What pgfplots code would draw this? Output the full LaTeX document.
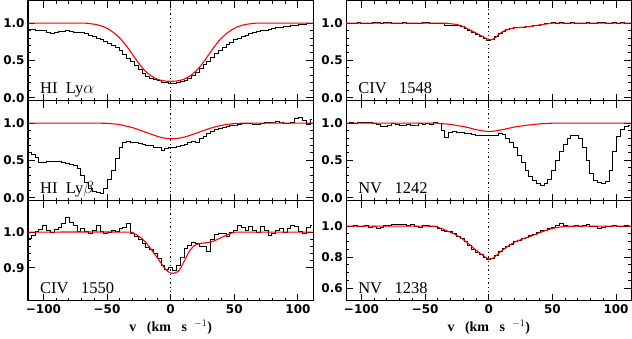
\documentclass[border=0pt]{standalone}
\usepackage{pgfplots}
\pgfplotsset{compat=1.18}
\usepackage{pgfplotstable}
\usepgfplotslibrary{groupplots}
\usepackage{fontspec}
\setmainfont{DejaVu Sans}
\newfontfamily\labfont{Liberation Serif}

% binned spectra (velocity bin centres, km/s)
\pgfplotstableread{
v    lya   lyb   c50   c48   n42   n38
-111 0.92  0.61  0.982 1.0   1.0   1.0
-108 0.91  0.575 0.99  0.995 1.005 0.998
-105 0.905 0.54  1.003 0.998 1.0   1.002
-102 0.90  0.47  1.008 1.004 1.008 0.996
-99  0.895 0.475 1.018 0.997 1.003 0.998
-96  0.875 0.48  1.004 0.993 1.01  1.003
-93  0.865 0.49  0.998 1.001 1.008 0.995
-90  0.88  0.49  1.007 1.006 0.99  1.0
-87  0.89  0.485 1.014 1.003 0.985 0.988
-84  0.885 0.475 1.024 0.998 0.96  0.99
-81  0.895 0.46  1.042 1.008 0.95  1.004
-78  0.89  0.45  1.028 1.004 0.975 1.008
-75  0.88  0.43  1.02  0.996 1.0   1.012
-72  0.875 0.39  1.002 1.0   0.985 1.01
-69  0.87  0.30  1.011 0.997 0.97  1.014
-66  0.855 0.20  1.002 1.004 0.975 1.012
-63  0.84  0.12  0.996 0.998 0.985 1.008
-60  0.82  0.085 1.004 0.994 0.965 1.01
-57  0.80  0.07  1.02  1.0   0.975 1.0
-54  0.78  0.06  1.002 0.996 0.99  0.99
-51  0.755 0.13  0.996 1.002 0.98  1.004
-48  0.73  0.24  0.998 1.006 0.995 1.002
-45  0.705 0.37  1.005 0.997 0.985 1.0
-42  0.67  0.53  1.003 0.995 1.005 0.996
-39  0.63  0.67  1.01  0.99  0.99  0.985
-36  0.58  0.74  1.012 0.993 0.9   0.972
-33  0.53  0.755 1.023 0.975 0.81  0.965
-30  0.48  0.745 0.996 0.97  0.875 0.965
-27  0.43  0.74  0.988 0.975 0.885 0.952
-24  0.38  0.73  0.978 0.968 0.88  0.935
-21  0.33  0.715 0.968 0.952 0.87  0.918
-18  0.29  0.705 0.958 0.925 0.86  0.9
-15  0.265 0.695 0.95  0.9   0.855 0.875
-12  0.24  0.68  0.94  0.87  0.845 0.848
-9   0.225 0.67  0.925 0.845 0.84  0.832
-6   0.21  0.63  0.905 0.82  0.835 0.82
-3   0.20  0.66  0.896 0.79  0.83  0.8
0    0.19  0.67  0.902 0.765 0.835 0.785
3    0.195 0.68  0.893 0.775 0.83  0.79
6    0.20  0.69  0.905 0.815 0.835 0.81
9    0.215 0.70  0.93  0.855 0.86  0.835
12   0.235 0.72  0.955 0.89  0.845 0.855
15   0.26  0.745 0.962 0.915 0.8   0.87
18   0.295 0.755 0.972 0.928 0.74  0.885
21   0.34  0.74  0.968 0.935 0.67  0.9
24   0.39  0.79  0.96  0.94  0.57  0.91
27   0.44  0.82  0.959 0.942 0.47  0.918
30   0.49  0.86  0.946 0.95  0.37  0.93
33   0.54  0.89  0.978 0.955 0.29  0.938
36   0.59  0.915 0.992 0.963 0.23  0.948
39   0.63  0.93  0.997 0.97  0.19  0.958
42   0.67  0.94  0.995 0.978 0.17  0.97
45   0.71  0.955 0.988 0.99  0.19  0.972
48   0.745 0.965 0.998 0.995 0.24  0.985
51   0.78  0.975 1.004 1.003 0.36  0.99
54   0.80  0.985 1.02  0.996 0.5   1.005
57   0.82  0.99  1.012 1.006 0.62  1.02
60   0.84  1.0   1.005 0.998 0.72  1.002
63   0.855 0.995 1.016 1.0   0.79  0.998
66   0.87  0.985 1.004 1.004 0.83  1.0
69   0.885 0.98  1.0   0.996 0.84  1.004
72   0.895 0.99  1.016 1.001 0.8   0.996
75   0.905 1.005 1.005 0.997 0.68  1.006
78   0.915 1.01  0.99  1.004 0.5   1.01
81   0.925 1.015 0.997 0.999 0.33  0.998
84   0.935 1.02  1.004 0.995 0.23  0.996
87   0.945 1.015 1.011 1.002 0.2   0.985
90   0.955 0.995 0.998 1.008 0.19  0.992
93   0.96  0.99  1.01  0.998 0.22  1.0
96   0.97  1.01  1.02  1.0   0.37  0.998
99   0.975 1.06  1.016 1.006 0.62  1.002
102  0.98  1.07  1.003 0.996 0.82  1.0
105  0.985 1.035 0.996 1.002 0.92  1.0
108  0.99  0.98  1.013 0.998 0.96  1.002
111  0.995 1.05  1.02  1.0   0.975 1.0
}\spec

\pgfplotsset{
  spec/.style={black, line width=0.9pt, const plot mark mid},
  model/.style={red, line width=1.1pt, smooth, tension=0.4},
  zeroline/.style={black, line width=1.3pt, dash pattern=on 1.3pt off 3pt},
}
\tikzset{lab/.style={anchor=base west, font=\labfont\fontsize{16.5}{16.5}\selectfont}}

\begin{document}
\begin{tikzpicture}
\begin{groupplot}[
  group style={group size=2 by 3, horizontal sep=33pt, vertical sep=0pt,
               xticklabels at=edge bottom},
  scale only axis, width=285pt, height=100pt,
  xmin=-112, xmax=112,
  xtick={-100,-50,0,50,100}, xticklabels={−100,−50,0,50,100},
  minor x tick num=4,
  tick align=inside, major tick length=7pt,
  tick style={black, line width=1pt},
  axis line style={line width=1.4pt},
  tick label style={font=\bfseries\fontsize{12}{12}\selectfont},
  ymin=-0.04, ymax=1.3, ytick={0,0.5,1}, yticklabels={0.0,0.5,1.0},
  minor y tick num=4,
]
% row 1
\nextgroupplot
\addplot[zeroline] coordinates {(0,-0.04) (0,1.3)};
\addplot[spec] table[x=v, y=lya] {\spec};
\addplot[model] coordinates {(-112,1) (-70,1) (-65,0.995) (-60,0.985) (-55,0.965) (-50,0.93) (-45,0.875) (-40,0.80) (-35,0.70) (-30,0.58) (-25,0.46) (-20,0.36) (-15,0.29) (-10,0.245) (-5,0.225) (0,0.22) (5,0.225) (10,0.245) (15,0.29) (20,0.36) (25,0.46) (30,0.58) (35,0.70) (40,0.80) (45,0.875) (50,0.93) (55,0.965) (60,0.985) (65,0.995) (70,1) (112,1)};
\node[lab] at (rel axis cs:0.03,0.07) {HI\ \ Ly$\alpha$};

\nextgroupplot
\addplot[zeroline] coordinates {(0,-0.04) (0,1.3)};
\addplot[spec] table[x=v, y=c48] {\spec};
\addplot[model] coordinates {(-112,1) (-40,1) (-35,0.997) (-30,0.992) (-25,0.98) (-21,0.96) (-16,0.92) (-11,0.876) (-6,0.83) (-2,0.795) (1,0.778) (3,0.782) (5,0.8) (8,0.85) (12,0.895) (17,0.926) (22,0.938) (27,0.945) (33,0.956) (41,0.978) (49,0.996) (55,1) (112,1)};
\node[lab] at (rel axis cs:0.03,0.07) {CIV\ \ \ 1548};

% row 2
\nextgroupplot
\addplot[zeroline] coordinates {(0,-0.04) (0,1.3)};
\addplot[spec] table[x=v, y=lyb] {\spec};
\addplot[model] coordinates {(-112,1) (-60,1) (-50,0.997) (-45,0.99) (-40,0.98) (-35,0.96) (-30,0.94) (-25,0.91) (-20,0.88) (-15,0.85) (-10,0.82) (-5,0.80) (0,0.79) (5,0.795) (10,0.81) (15,0.835) (20,0.865) (25,0.895) (30,0.925) (35,0.95) (40,0.97) (45,0.985) (50,0.993) (55,0.998) (60,1) (112,1)};
\node[lab] at (rel axis cs:0.03,0.07) {HI\ \ Ly$\beta$};

\nextgroupplot
\addplot[zeroline] coordinates {(0,-0.04) (0,1.3)};
\addplot[spec] table[x=v, y=n42] {\spec};
\addplot[model] coordinates {(-112,1) (-45,1) (-40,0.995) (-32,0.987) (-22,0.96) (-16,0.94) (-11,0.916) (-6,0.9) (-3,0.893) (0,0.889) (2,0.889) (5,0.895) (10,0.91) (15,0.928) (20,0.947) (26,0.962) (33,0.978) (40,0.99) (46,0.996) (55,1) (112,1)};
\node[lab] at (rel axis cs:0.03,0.07) {NV\ \ \ 1242};

% row 3
\nextgroupplot[ymin=0.807, ymax=1.088, ytick={0.9,1.0}, yticklabels={0.9,1.0},
  minor y tick num=4,
  xlabel={\labfont\bfseries\fontsize{14}{14}\selectfont v\ \ \ (km\ \ \ s\ \ $^{-1}$)}]
\addplot[zeroline] coordinates {(0,0.807) (0,1.088)};
\addplot[spec] table[x=v, y=c50] {\spec};
\addplot[model] coordinates {(-112,1) (-35,1) (-30,0.997) (-27,0.993) (-22,0.98) (-17,0.96) (-14,0.945) (-11,0.93) (-8,0.915) (-5,0.9) (-2,0.889) (1,0.884) (4,0.886) (6,0.89) (8,0.9) (10,0.914) (12,0.928) (14,0.942) (16,0.952) (18,0.96) (21,0.966) (25,0.969) (30,0.971) (34,0.975) (37,0.98) (40,0.985) (43,0.99) (46,0.995) (50,0.999) (55,1) (112,1)};
\node[lab] at (rel axis cs:0.03,0.07) {CIV\ \ \ 1550};

\nextgroupplot[ymin=0.519, ymax=1.164, ytick={0.6,0.8,1.0}, yticklabels={0.6,0.8,1.0},
  minor y tick num=3,
  xlabel={\labfont\bfseries\fontsize{14}{14}\selectfont v\ \ \ (km\ \ \ s\ \ $^{-1}$)}]
\addplot[zeroline] coordinates {(0,0.519) (0,1.164)};
\addplot[spec] table[x=v, y=n38] {\spec};
\addplot[model] coordinates {(-112,1) (-45,1) (-42,0.998) (-37,0.985) (-32,0.967) (-27,0.95) (-22,0.925) (-16.5,0.891) (-11,0.852) (-6,0.82) (-2,0.797) (0.5,0.788) (2,0.79) (4.5,0.8) (9.5,0.837) (15,0.87) (20,0.896) (25,0.913) (33,0.935) (41,0.961) (49,0.983) (57,0.996) (65,1) (112,1)};
\node[lab] at (rel axis cs:0.03,0.07) {NV\ \ \ 1238};
\end{groupplot}
\end{tikzpicture}
\end{document}
